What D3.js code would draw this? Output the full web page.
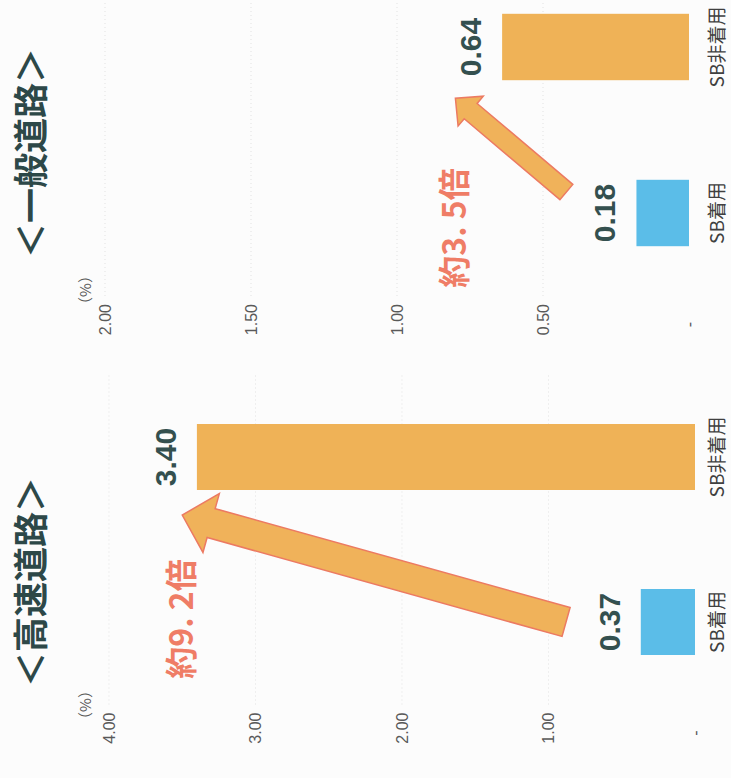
<!DOCTYPE html>
<html lang="ja">
<head>
<meta charset="utf-8">
<script src="https://cdn.jsdelivr.net/npm/d3@7"></script>
<style>
  html, body { margin: 0; padding: 0; background: #fcfcfc; }
  svg { display: block; }
</style>
</head>
<body>
<script>
// シートベルト着用有無別の致死率（%）
const categories = ["SB着用", "SB非着用"];
const expresswayValues = [0.37, 3.40];
const generalRoadValues = [0.18, 0.64];
const expresswayTicks = [0, 1, 2, 3, 4];
const generalRoadTicks = [0, 0.5, 1, 1.5, 2];
const panelTitles = ["＜高速道路＞", "＜一般道路＞"];
const ratioLabels = ["約9. 2倍", "約3. 5倍"];
// 矢印の始点・終点（値軸上の位置）
const arrowTailValues = [0.88, 0.42];
const arrowTipValues = [3.50, 0.80];
const unitLabel = "（%）";

const W = 731, H = 778;
const colors = { "SB着用": "#5bbde8", "SB非着用": "#efb257" };
const jp = "'Noto Sans CJK JP', 'Noto Sans', sans-serif";
const num = "'Liberation Sans', Arial, sans-serif";

// 図全体は横向きに描き、左へ90度回転して縦長に収める
const svg = d3.select("body").append("svg")
  .attr("width", W).attr("height", H);
svg.append("rect").attr("width", W).attr("height", H).attr("fill", "#fcfcfc");
const root = svg.append("g")
  .attr("transform", `translate(0,${H}) rotate(-90)`);

const panels = [
  { values: expresswayValues, ticks: expresswayTicks, band: [73.5, 403.5], yRange: [695, 109],
    titleX: 196, unitX: 73, shaft: 30, head: 61, headLen: 30, tailDx: 0, tipDx: -25, ratioDx: 3 },
  { values: generalRoadValues, ticks: generalRoadTicks, band: [482, 814], yRange: [689, 105],
    titleX: 625, unitX: 488, shaft: 20, head: 39, headLen: 20, tailDx: 21, tipDx: -18, ratioDx: -15 }
];

panels.forEach((p, i) => {
  const g = root.append("g");
  const x = d3.scaleBand().domain(categories).range(p.band)
    .paddingInner(0.6).paddingOuter(0.3);
  const y = d3.scaleLinear().domain([0, d3.max(p.ticks)]).range(p.yRange);

  // 目盛線
  g.append("g").selectAll("line")
    .data(p.ticks.filter(t => t > 0))
    .join("line")
    .attr("x1", p.band[0]).attr("x2", p.band[1])
    .attr("y1", d => y(d)).attr("y2", d => y(d))
    .attr("stroke", "#e2e2e2").attr("stroke-width", 1)
    .attr("stroke-dasharray", "1 3");

  // 値軸
  const axis = d3.axisLeft(y).tickValues(p.ticks).tickSize(0).tickPadding(8)
    .tickFormat(d => d === 0 ? "-" : d3.format(".2f")(d));
  const ag = g.append("g").attr("transform", `translate(${p.band[0]},0)`).call(axis);
  ag.select(".domain").remove();
  ag.selectAll("text")
    .attr("font-family", num).attr("font-size", 16).attr("fill", "#595959");
  ag.selectAll("text").filter(d => d === 0).attr("x", -26);

  g.append("text")
    .attr("x", p.unitX).attr("y", 84)
    .attr("text-anchor", "middle").attr("dominant-baseline", "central")
    .attr("font-family", jp).attr("font-size", 15).attr("fill", "#595959")
    .text(unitLabel);

  // 棒
  g.append("g").selectAll("rect")
    .data(categories.map((c, k) => ({ c, v: p.values[k] })))
    .join("rect")
    .attr("x", d => x(d.c)).attr("width", x.bandwidth())
    .attr("y", d => y(d.v)).attr("height", d => y(0) - y(d.v))
    .attr("fill", d => colors[d.c]);

  // 数値ラベル
  g.append("g").selectAll("text")
    .data(categories.map((c, k) => ({ c, v: p.values[k] })))
    .join("text")
    .attr("x", d => x(d.c) + x.bandwidth() / 2)
    .attr("y", d => y(d.v) - 21)
    .attr("text-anchor", "middle")
    .attr("font-family", num).attr("font-weight", "bold").attr("font-size", 30)
    .attr("fill", "#34504f")
    .text(d => d3.format(".2f")(d.v));

  // 項目ラベル
  g.append("g").selectAll("text")
    .data(categories)
    .join("text")
    .attr("x", d => x(d) + x.bandwidth() / 2)
    .attr("y", 724)
    .attr("text-anchor", "middle")
    .attr("font-family", jp).attr("font-size", 19).attr("fill", "#404040")
    .text(d => d);

  // 見出し
  g.append("text")
    .attr("x", p.titleX).attr("y", 28)
    .attr("text-anchor", "middle").attr("dominant-baseline", "central")
    .attr("font-family", jp).attr("font-weight", "bold").attr("font-size", 35)
    .attr("fill", "#2d4848")
    .text(panelTitles[i]);

  // 倍率を示す矢印
  const T = [x(categories[0]) + x.bandwidth() / 2 + p.tailDx, y(arrowTailValues[i])];
  const P = [x(categories[1]) + p.tipDx, y(arrowTipValues[i])];
  const dx = P[0] - T[0], dy = P[1] - T[1];
  const len = Math.hypot(dx, dy);
  const d = [dx / len, dy / len], n = [-d[1], d[0]];
  const B = [P[0] - d[0] * p.headLen, P[1] - d[1] * p.headLen];
  const off = (pt, k) => [pt[0] + n[0] * k, pt[1] + n[1] * k];
  const pts = [off(T, p.shaft / 2), off(B, p.shaft / 2), off(B, p.head / 2), P,
               off(B, -p.head / 2), off(B, -p.shaft / 2), off(T, -p.shaft / 2)];
  g.append("path")
    .attr("d", d3.line()(pts) + "Z")
    .attr("fill", "#f0b25a").attr("stroke", "#ec7a62").attr("stroke-width", 1.5)
    .attr("stroke-linejoin", "miter");

  g.append("text")
    .attr("x", x(categories[0]) + x.bandwidth() / 2 + p.ratioDx)
    .attr("y", y(arrowTipValues[i]) - 3)
    .attr("text-anchor", "middle").attr("dominant-baseline", "central")
    .attr("font-family", jp).attr("font-weight", "bold").attr("font-size", 32)
    .attr("fill", "#ef7d66")
    .text(ratioLabels[i]);
});
</script>
</body>
</html>
